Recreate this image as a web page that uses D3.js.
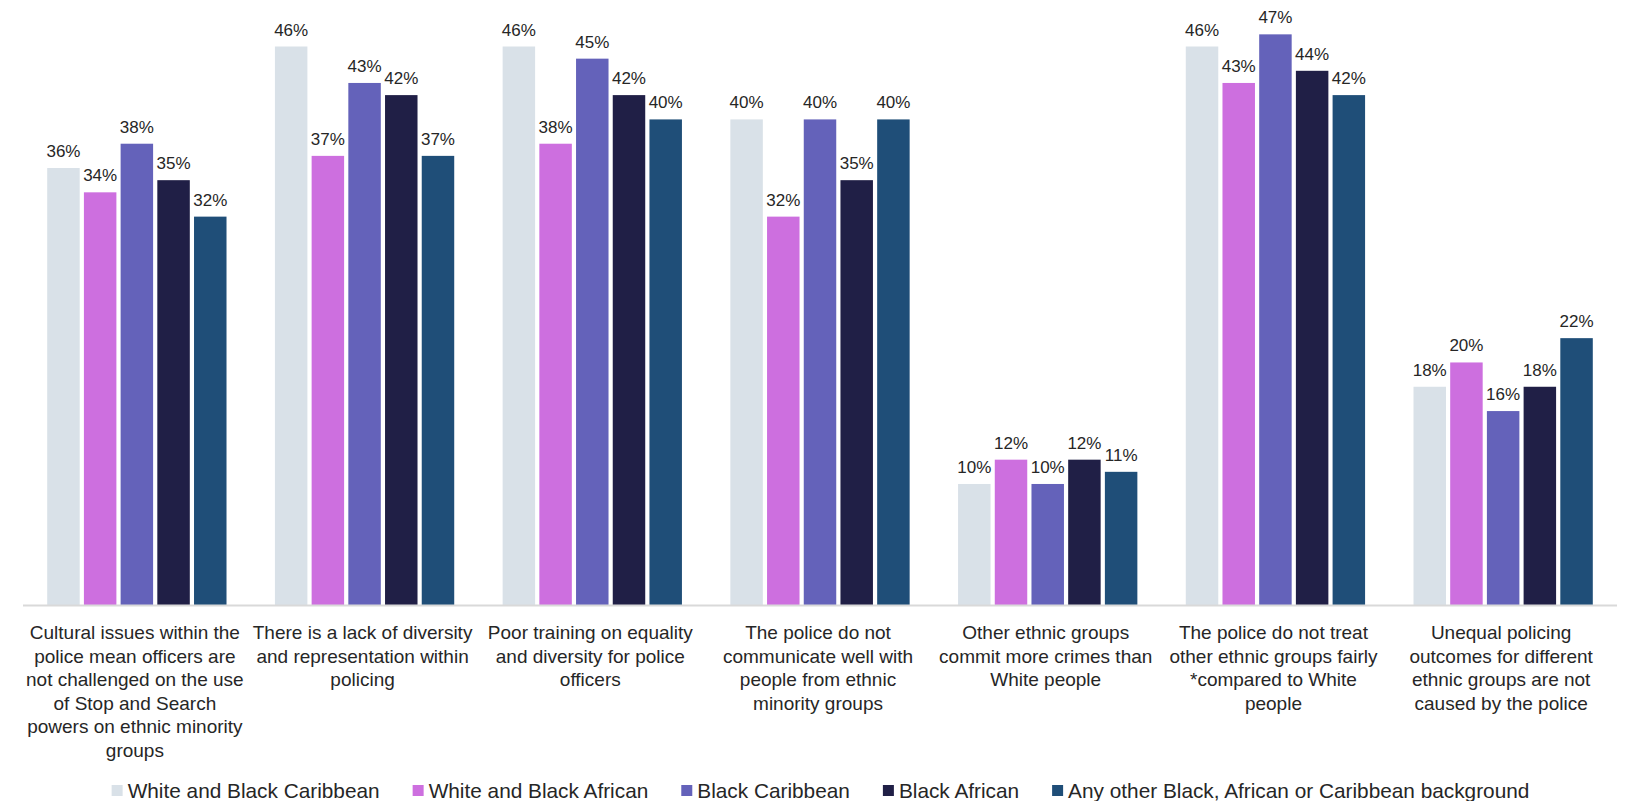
<!DOCTYPE html>
<html>
<head>
<meta charset="utf-8">
<script src="https://cdn.jsdelivr.net/npm/d3@7"></script>
<style>
  body { margin: 0; background: #fff; }
  text { font-family: "Liberation Sans", Arial, Helvetica, sans-serif; fill: #262626; }
</style>
</head>
<body>
<div id="plot"></div>
<script>
// categories (wrapped as in the original)
var categories = [
  ["Cultural issues within the", "police mean officers are", "not challenged on the use", "of Stop and Search", "powers on ethnic minority", "groups"],
  ["There is a lack of diversity", "and representation within", "policing"],
  ["Poor training on equality", "and diversity for police", "officers"],
  ["The police do not", "communicate well with", "people from ethnic", "minority groups"],
  ["Other ethnic groups", "commit more crimes than", "White people"],
  ["The police do not treat", "other ethnic groups fairly", "*compared to White", "people"],
  ["Unequal policing", "outcomes for different", "ethnic groups are not", "caused by the police"]
];

var series = ["White and Black Caribbean", "White and Black African", "Black Caribbean", "Black African", "Any other Black, African or Caribbean background"];
var colors = ["#d9e1e8", "#cd6fdf", "#6462ba", "#201f46", "#1f4e78"];

// percent values, one array per series (same order as categories)
var whiteBlackCaribbean = [36, 46, 46, 40, 10, 46, 18];
var whiteBlackAfrican   = [34, 37, 38, 32, 12, 43, 20];
var blackCaribbean      = [38, 43, 45, 40, 10, 47, 16];
var blackAfrican        = [35, 42, 42, 35, 12, 44, 18];
var otherBlack          = [32, 37, 40, 40, 11, 42, 22];
var values = [whiteBlackCaribbean, whiteBlackAfrican, blackCaribbean, blackAfrican, otherBlack];

var W = 1637, H = 801;
var svg = d3.select("#plot").append("svg")
    .attr("width", W)
    .attr("height", H);

var x0 = d3.scaleBand()
    .domain(d3.range(categories.length))
    .range([23, 1617])
    .padding(0);

var inner = 179.3;
var x1 = d3.scaleBand()
    .domain(d3.range(series.length))
    .range([(x0.bandwidth() - inner) / 2, (x0.bandwidth() + inner) / 2])
    .paddingInner(0.115)
    .paddingOuter(0);

var y = d3.scaleLinear()
    .domain([0, 46])
    .range([605.5, 46.5]);

// bars
var groups = svg.append("g").selectAll("g")
  .data(categories)
  .enter().append("g")
    .attr("transform", function(d, i) { return "translate(" + x0(i) + ",0)"; });

groups.selectAll("rect")
  .data(function(d, i) { return values.map(function(s, k) { return {k: k, v: s[i]}; }); })
  .enter().append("rect")
    .attr("x", function(d) { return x1(d.k); })
    .attr("y", function(d) { return y(d.v); })
    .attr("width", x1.bandwidth())
    .attr("height", function(d) { return y(0) - y(d.v); })
    .attr("fill", function(d) { return colors[d.k]; });

groups.selectAll("text.val")
  .data(function(d, i) { return values.map(function(s, k) { return {k: k, v: s[i]}; }); })
  .enter().append("text")
    .attr("class", "val")
    .attr("x", function(d) { return x1(d.k) + x1.bandwidth() / 2; })
    .attr("y", function(d) { return y(d.v) - 11; })
    .attr("text-anchor", "middle")
    .style("font-size", "17px")
    .text(function(d) { return d.v + "%"; });

// axis line
svg.append("line")
    .attr("x1", x0.range()[0]).attr("x2", x0.range()[1])
    .attr("y1", y(0)).attr("y2", y(0))
    .style("stroke", "#d9d9d9")
    .style("stroke-width", 2);

// category labels
svg.append("g").selectAll("text")
  .data(categories)
  .enter().append("text")
    .attr("text-anchor", "middle")
    .style("font-size", "19px")
    .attr("transform", function(d, i) { return "translate(" + (x0(i) + x0.bandwidth() / 2 - 2) + ",639)"; })
  .selectAll("tspan")
  .data(function(d) { return d; })
  .enter().append("tspan")
    .attr("x", 0)
    .attr("y", function(d, j) { return j * 23.6; })
    .text(function(d) { return d; });

// legend
var legend = svg.append("g");
var items = legend.selectAll("g")
  .data(series)
  .enter().append("g");
items.append("rect")
    .attr("width", 11).attr("height", 11)
    .attr("y", -13)
    .attr("fill", function(d, i) { return colors[i]; });
items.append("text")
    .attr("x", 16)
    .style("font-size", "20.8px")
    .text(function(d) { return d; });

var xpos = 0;
items.each(function() {
  var w = d3.select(this).select("text").node().getComputedTextLength() + 16;
  d3.select(this).attr("transform", "translate(" + xpos + ",0)");
  xpos += w + 33;
});
var total = xpos - 33;
legend.attr("transform", "translate(" + ((W - total) / 2 + 2) + ",798)");
</script>
</body>
</html>
